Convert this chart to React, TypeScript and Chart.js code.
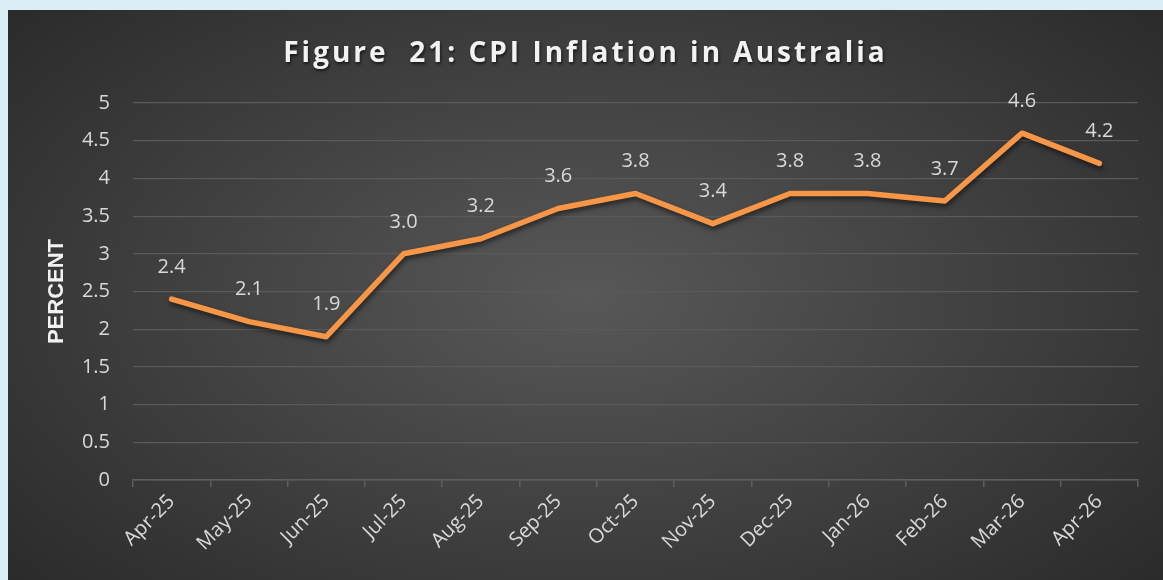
import React, { useEffect, useRef } from "react";
import { Chart, registerables } from "chart.js";

Chart.register(...registerables);

const categories = ["Apr-25", "May-25", "Jun-25", "Jul-25", "Aug-25", "Sep-25", "Oct-25", "Nov-25", "Dec-25", "Jan-26", "Feb-26", "Mar-26", "Apr-26"];
const cpiValues = [2.4, 2.1, 1.9, 3.0, 3.2, 3.6, 3.8, 3.4, 3.8, 3.8, 3.7, 4.6, 4.2];
const titleText = "Figure  21: CPI Inflation in Australia";
const yAxisTitle = "PERCENT";

const FONT = "'Open Sans', 'Noto Sans', sans-serif";

const labelPlugin = {
  id: "pointLabels",
  beforeDatasetDraw(chart: any) {
    const ctx = chart.ctx;
    ctx.save();
    ctx.shadowColor = "rgba(0,0,0,0.55)";
    ctx.shadowBlur = 5;
    ctx.shadowOffsetX = 1;
    ctx.shadowOffsetY = 3;
  },
  afterDatasetDraw(chart: any) {
    chart.ctx.restore();
  },
  afterDatasetsDraw(chart: any) {
    const ctx = chart.ctx;
    const meta = chart.getDatasetMeta(0);
    ctx.save();
    ctx.font = `20px ${FONT}`;
    ctx.fillStyle = "#d9d9d9";
    ctx.textAlign = "center";
    ctx.textBaseline = "middle";
    meta.data.forEach((pt: any, i: number) => {
      ctx.fillText(cpiValues[i].toFixed(1), pt.x, pt.y - 32);
    });
    ctx.restore();
  },
};

export default function App() {
  const canvasRef = useRef<HTMLCanvasElement | null>(null);

  useEffect(() => {
    document.body.style.margin = "0";
    document.body.style.background = "#daeef5";
    const chart = new Chart(canvasRef.current as HTMLCanvasElement, {
      type: "line",
      data: {
        labels: categories,
        datasets: [
          {
            data: cpiValues,
            borderColor: "#f79646",
            borderWidth: 5.5,
            pointRadius: 0,
            tension: 0,
            borderJoinStyle: "round",
            borderCapStyle: "round",
          },
        ],
      },
      options: {
        animation: false,
        responsive: false,
        maintainAspectRatio: false,
        layout: { padding: { top: 93, right: 25, left: 0, bottom: 0 } },
        plugins: { legend: { display: false }, tooltip: { enabled: false } },
        scales: {
          x: {
            offset: true,
            grid: {
              offset: true,
              drawOnChartArea: false,
              drawTicks: true,
              tickLength: 7,
              color: "#5e5e5e",
              lineWidth: 1.5,
            },
            border: { display: true, color: "#5e5e5e", width: 1.5 },
            ticks: {
              color: "#d9d9d9",
              font: { family: FONT, size: 20 },
              minRotation: 45,
              maxRotation: 45,
              padding: 3,
              autoSkip: false,
            },
            afterFit(scale: any) {
              scale.height = 100;
            },
          },
          y: {
            min: 0,
            max: 5,
            ticks: {
              stepSize: 0.5,
              color: "#d9d9d9",
              font: { family: FONT, size: 20 },
              padding: 23,
              callback: (v: any) => String(v),
            },
            grid: { color: "#5a5a5a", lineWidth: 1.2, drawTicks: false },
            border: { display: false },
            title: {
              display: true,
              text: yAxisTitle,
              color: "#f2f2f2",
              padding: { top: 36, bottom: 0 },
              font: { family: "'Liberation Sans', Arial, sans-serif", size: 22, weight: "bold" },
            },
            afterFit(scale: any) {
              scale.width = 125;
            },
          },
        },
      },
      plugins: [labelPlugin],
    });
    return () => chart.destroy();
  }, []);

  return (
    <div
      style={{
        position: "fixed",
        left: 8,
        top: 10,
        width: 1155,
        height: 570,
        background: "radial-gradient(ellipse 75% 85% at 50% 50%, #585858 0%, #3c3c3c 55%, #252525 100%)",
      }}
    >
      <div
        style={{
          position: "absolute",
          left: 0,
          width: "100%",
          top: 22,
          textAlign: "center",
          color: "#f2f2f2",
          fontFamily: "'Open Sans', sans-serif",
          fontWeight: 700,
          fontSize: 28,
          letterSpacing: 3,
          whiteSpace: "pre",
          textShadow: "1px 2px 3px rgba(0,0,0,0.6)",
        }}
      >
        {titleText}
      </div>
      <canvas ref={canvasRef} width={1155} height={570} style={{ position: "absolute", left: 0, top: 0 }} />
    </div>
  );
}
